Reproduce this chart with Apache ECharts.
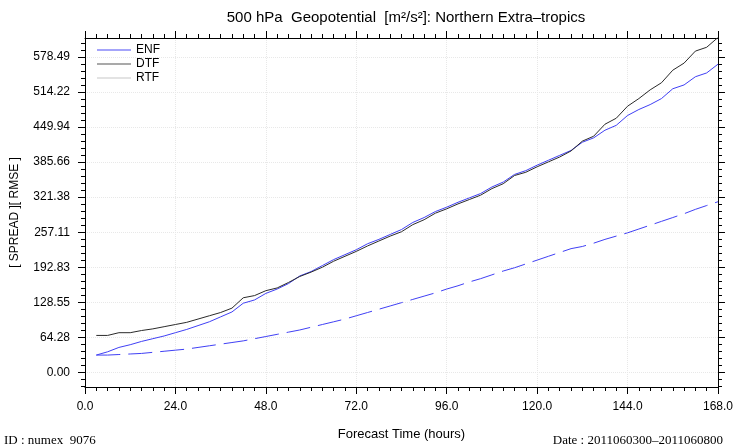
<!DOCTYPE html>
<html>
<head>
<meta charset="utf-8">
<script src="https://cdn.jsdelivr.net/npm/echarts@6/dist/echarts.min.js"></script>
<style>html,body{margin:0;padding:0;background:#fff}#c{width:736px;height:446px}</style>
</head>
<body>
<div id="c"></div>
<script>
// ---- data ----
var hours = [3,6,9,12,15,18,21,24,27,30,33,36,39,42,45,48,51,54,57,60,63,66,69,72,75,78,81,84,87,90,93,96,99,102,105,108,111,114,117,120,123,126,129,132,135,138,141,144,147,150,153,156,159,162,165,168];
var enf = [32,38,46,51,57,62,67,73,79,86,93,102,111,127,133,145,153,163,177,185,196,207,216,225,236,244,253,262,275,284,295,303,312,320,328,340,349,363,370,380,389,398,407,422,430,444,453,471,482,491,502,520,527,542,549,565];
var dtf = [68,68,73,73,77,80,84,88,92,98,104,110,118,137,141,150,155,165,176,184,193,204,213,222,232,241,250,258,271,280,292,300,309,317,325,337,346,361,367,377,386,395,406,424,433,455,466,488,502,518,531,554,567,589,596,614];
var enfSpread = [32,32,33,34,35,37,39,41,43,46,49,52,55,58,62,66,70,74,78,83,88,93,98,104,110,116,122,128,134,140,146,153,159,166,172,179,186,192,199,206,213,220,227,231,237,244,250,256,263,270,277,284,291,299,306,313];
var rtf = [];
var legendNames = ['ENF','DTF','RTF'];
var yTickLabels = ['0.00','64.28','128.55','192.83','257.11','321.38','385.66','449.94','514.22','578.49'];
var xTickStep = 24;

// ---- build ----
var yMajor = yTickLabels.map(function(s){return parseFloat(s);});
var yStep = yMajor[yMajor.length-1]/(yMajor.length-1);
var yMin = -26.5, yMax = 613;
var yMinor = [];
for (var k = Math.ceil(yMin/(yStep/5)); k*(yStep/5) <= yMax; k++) {
  if (k % 5 !== 0) yMinor.push(k*yStep/5);
}
function pairs(a){ return hours.map(function(h,i){return [h,a[i]];}); }

var font = 'Liberation Sans, Arial, Helvetica, sans-serif';
var serif = 'Liberation Serif, Times New Roman, serif';
var gridLine = {show:true, lineStyle:{color:'#e8e8e8', type:'dotted', width:1}};

function yAx(pos, major, showLabel){
  return {
    type:'value', position:pos, min:yMin, max:yMax,
    axisLine:{show:true, onZero:false, lineStyle:{color:'#000', width:1}},
    axisTick:{show:true, inside:false, length: major?7:4, customValues: major?yMajor:yMinor, lineStyle:{color:'#000'}},
    axisLabel:{show:showLabel, customValues:yMajor, margin:15, color:'#000', fontSize:12, fontFamily:font,
      formatter:function(v){ var i=-1; yMajor.forEach(function(m,j){ if(Math.abs(m-v)<0.01) i=j;}); return i>=0?yTickLabels[i]:''; }},
    splitLine: (major && pos==='left') ? gridLine : {show:false},
    name: (major && pos==='left') ? '[ SPREAD ][ RMSE ]' : '',
    nameLocation:'middle', nameGap:64,
    nameTextStyle:{color:'#000', fontSize:12, fontFamily:font}
  };
}
function xAx(pos, showLabel){
  return {
    type:'value', position:pos, min:0, max:168, interval:xTickStep,
    axisLine:{show:true, onZero:false, lineStyle:{color:'#000', width:1}},
    axisTick:{show:true, inside:false, length:7, lineStyle:{color:'#000'}},
    minorTick:{show:true, splitNumber:8, length:4, lineStyle:{color:'#000'}},
    axisLabel:{show:showLabel, margin:14, color:'#000', fontSize:12, fontFamily:font,
      formatter:function(v){return v.toFixed(1);}},
    splitLine: pos==='bottom' ? gridLine : {show:false},
    name: pos==='bottom' ? 'Forecast Time (hours)' : '',
    nameLocation:'middle', nameGap:41,
    nameTextStyle:{color:'#000', fontSize:13, fontFamily:font}
  };
}

var chart = echarts.init(document.getElementById('c'), null, {renderer:'canvas'});
chart.setOption({
  animation:false,
  backgroundColor:'#fff',
  title:{text:'500 hPa  Geopotential  [m\u00b2/s\u00b2]: Northern Extra\u2013tropics', left:401, textAlign:'center', top:5,
    textStyle:{fontSize:15, fontWeight:'normal', color:'#000', fontFamily:font}},
  grid:{left:85, right:17, top:38, bottom:54},
  legend:{data:legendNames, orient:'vertical', left:92, top:39, itemWidth:34, itemHeight:8, itemGap:2,
    textStyle:{fontSize:12, color:'#000', fontFamily:font}, icon:'path://M0,4L34,4L34,5L0,5Z'},
  xAxis:[xAx('bottom', true), xAx('top', false)],
  yAxis:[yAx('left', true, true), yAx('left', false, false), yAx('right', true, false), yAx('right', false, false)],
  series:[
    {name:'ENF', type:'line', data:pairs(enf), symbol:'none', lineStyle:{color:'#4040f5', width:1}, itemStyle:{color:'#4a4af5'}},
    {name:'DTF', type:'line', data:pairs(dtf), symbol:'none', lineStyle:{color:'#2a2a2a', width:1}, itemStyle:{color:'#555'}},
    {name:'RTF', type:'line', data:rtf, symbol:'none', lineStyle:{color:'#c8c8c8', width:1}, itemStyle:{color:'#c8c8c8'}},
    {name:'ENF spread', type:'line', data:pairs(enfSpread), symbol:'none', lineStyle:{color:'#4040f5', width:1, type:[24,8]}}
  ],
  graphic:[
    {type:'text', left:4, top:434, style:{text:'ID : numex  9076', fontSize:13, fontFamily:serif, fill:'#000'}},
    {type:'text', right:13, top:434, style:{text:'Date : 2011060300\u20132011060800', fontSize:13, fontFamily:serif, fill:'#000'}}
  ]
});
</script>
</body>
</html>
